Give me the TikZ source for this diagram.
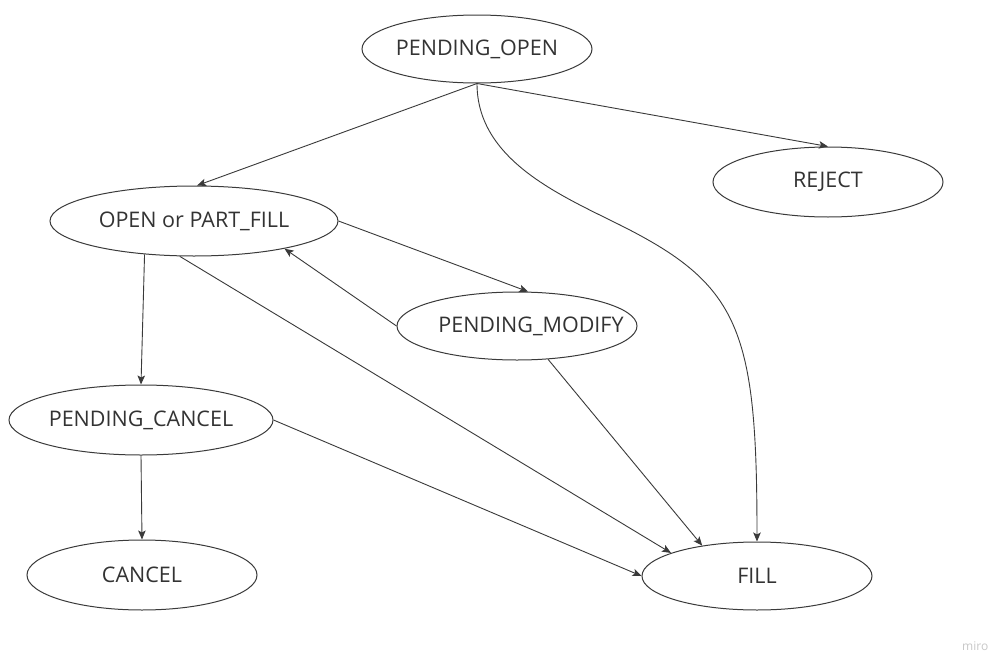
\documentclass[tikz,border=0pt]{standalone}
\usepackage{fontspec}
\setmainfont{Open Sans}
\usetikzlibrary{shapes.geometric,arrows.meta}
\definecolor{ln}{HTML}{3A3A3A}
\definecolor{tx}{HTML}{333333}
\definecolor{wm}{HTML}{C8C8C8}
\begin{document}
\begin{tikzpicture}[x=1pt,y=-1pt,
  st/.style 2 args={draw=ln, line width=1pt, ellipse, fill=white, inner sep=0pt,
    minimum width=#1, minimum height=#2, text=tx,
    font=\fontsize{21.5}{25}\selectfont},
  arr/.style={draw=ln, line width=0.9pt, -{Stealth[length=9pt,width=7.5pt,inset=2pt]}}]
\useasboundingbox (0,0) rectangle (997,656);
\fill[white] (0,0) rectangle (997,656);
\node[st={230pt}{68pt}] (po) at (477,49) {\makebox[0pt]{PENDING\_OPEN}};
\node[st={230pt}{70pt}] (rj) at (828,182) {\makebox[0pt]{REJECT}};
\node[st={288pt}{70pt}] (op) at (194,221) {\makebox[0pt]{OPEN or PART\_FILL}};
\node[st={240pt}{68pt}] (pm) at (517,326) {\makebox[0pt]{\hspace*{28pt}PENDING\_MODIFY}};
\node[st={264pt}{70pt}] (pc) at (141,420) {\makebox[0pt]{PENDING\_CANCEL}};
\node[st={230pt}{70pt}] (ca) at (142,575) {\makebox[0pt]{CANCEL}};
\node[st={230pt}{68pt}] (fl) at (757,576) {\makebox[0pt]{FILL}};
\node[text=wm, font=\fontsize{12}{14}\selectfont, anchor=west, inner sep=0pt] (miro) at (962,646) {miro};
\coordinate (bend) at (620,225);
\draw[arr] (po.south) -- (op.85);
\draw[arr] (po.south) -- (rj.north);
\draw[arr] (po.south) .. controls (477,160) and (560,195) .. (bend)
  .. controls (740,285) and (757,330) .. (fl.north);
\draw[arr] (op.east) -- (pm.72);
\draw[arr] (pm.west) -- (op.343);
\draw[arr] (op.214) -- (pc.north);
\draw[arr] (op.248) -- (fl.165);
\draw[arr] (pm.313) -- (fl.151);
\draw[arr] (pc.east) -- (fl.west);
\draw[arr] (pc.south) -- (ca.north);
\end{tikzpicture}
\end{document}
